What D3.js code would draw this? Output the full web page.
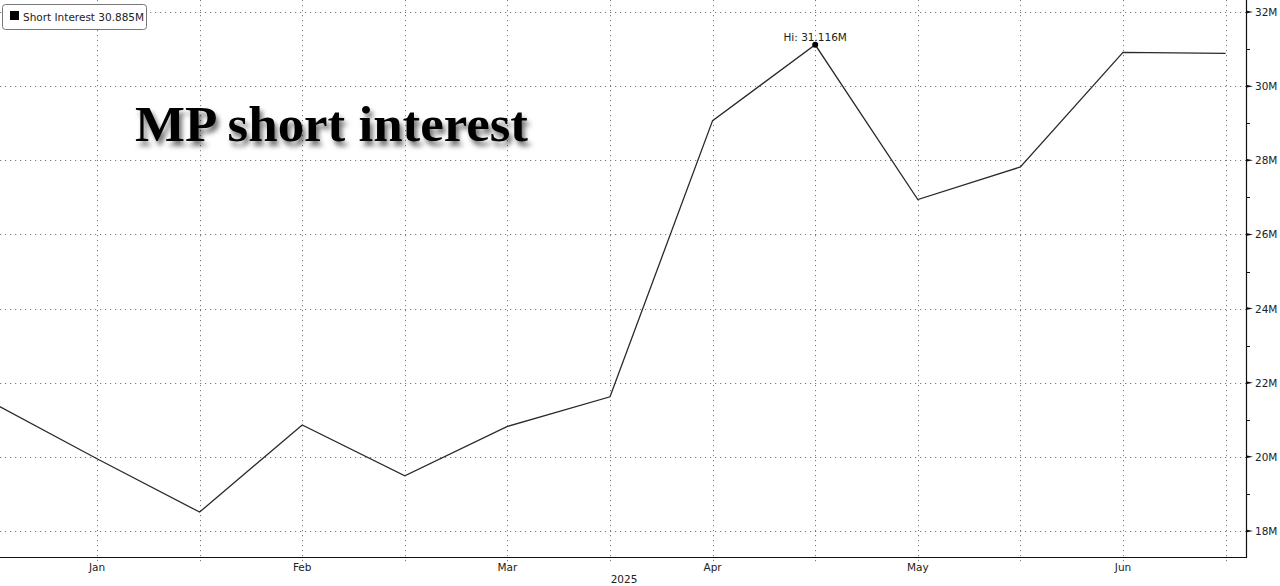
<!DOCTYPE html>
<html>
<head>
<meta charset="utf-8">
<script src="https://cdn.jsdelivr.net/npm/d3@7/dist/d3.min.js"></script>
<style>
  html, body { margin: 0; padding: 0; background: #fff; }
  svg { display: block; }
  .lbl { font-family: "DejaVu Sans", Verdana, sans-serif; font-size: 10.5px; fill: #222; }
</style>
</head>
<body>
<svg id="chart" width="1280" height="586"></svg>
<script>
// ---- data ----
const dates = ["2024-12-31","2025-01-15","2025-01-31","2025-02-14","2025-02-28","2025-03-14",
               "2025-03-31","2025-04-15","2025-04-30","2025-05-15","2025-05-30","2025-06-13","2025-06-30"];
const values = [21.43, 19.95, 18.51, 20.86, 19.49, 20.82, 21.62, 29.07, 31.116, 26.94, 27.82, 30.91, 30.885];
const monthLabels = ["", "Jan", "", "Feb", "", "Mar", "", "Apr", "", "May", "", "Jun", ""];
const yTicks = [18, 20, 22, 24, 26, 28, 30, 32];
const yMinorTicks = [19, 21, 23, 25, 27, 29, 31];
const seriesName = "Short Interest";
const lastLabel = "30.885M";
const hiLabel = "Hi: 31.116M";
const titleText = "MP short interest";
const yearLabel = "2025";

const svg = d3.select("#chart");
const W = 1280, H = 586;
const plotRight = 1246, plotBottom = 557;

const x = d3.scalePoint().domain(dates).range([-5.6, 1225.6]);
const y = d3.scaleLinear().domain([18, 32]).range([531, 12]);

// defs: shadow filter
const defs = svg.append("defs");
const f = defs.append("filter").attr("id", "shadow").attr("x", "-10%").attr("y", "-30%").attr("width", "130%").attr("height", "180%");
f.append("feDropShadow").attr("dx", 3).attr("dy", 5).attr("stdDeviation", 2.5).attr("flood-color", "#000").attr("flood-opacity", 0.55);

defs.append("clipPath").attr("id", "clip").append("rect")
  .attr("x", 0).attr("y", 0).attr("width", plotRight).attr("height", plotBottom);

// grid
const grid = svg.append("g").attr("stroke", "#7a7a7a").attr("stroke-width", 1).attr("stroke-dasharray", "1.2,3.8");
grid.selectAll("line.h").data(yTicks).join("line")
  .attr("x1", 0).attr("x2", plotRight)
  .attr("y1", d => Math.round(y(d)) + 0.5).attr("y2", d => Math.round(y(d)) + 0.5);
grid.selectAll("line.v").data(dates.slice(1)).join("line")
  .attr("x1", d => Math.round(x(d)) + 0.5).attr("x2", d => Math.round(x(d)) + 0.5)
  .attr("y1", 0).attr("y2", plotBottom + 6);

// title
svg.append("text")
  .attr("x", 135).attr("y", 141)
  .attr("font-family", "'Liberation Serif', 'Times New Roman', serif")
  .attr("font-weight", "bold")
  .attr("font-size", 50)
  .attr("textLength", 393).attr("lengthAdjust", "spacingAndGlyphs")
  .attr("fill", "#000")
  .attr("filter", "url(#shadow)")
  .text(titleText);

// line
const line = d3.line().x((d, i) => x(dates[i])).y(d => y(d));
svg.append("path")
  .datum(values)
  .attr("clip-path", "url(#clip)")
  .attr("fill", "none")
  .attr("stroke", "#2a2a2a")
  .attr("stroke-width", 1.3)
  .attr("stroke-linejoin", "miter")
  .attr("d", line);

// hi marker
const hiIdx = values.indexOf(d3.max(values));
svg.append("circle").attr("cx", x(dates[hiIdx])).attr("cy", y(values[hiIdx])).attr("r", 3).attr("fill", "#000");
svg.append("text").attr("class", "lbl")
  .attr("x", x(dates[hiIdx])).attr("y", 41).attr("text-anchor", "middle")
  .text(hiLabel);

// frame axes
svg.append("line").attr("x1", plotRight + 0.5).attr("x2", plotRight + 0.5).attr("y1", 0).attr("y2", plotBottom + 1)
  .attr("stroke", "#111").attr("stroke-width", 1.2);
svg.append("line").attr("x1", 0).attr("x2", plotRight + 1).attr("y1", plotBottom + 0.5).attr("y2", plotBottom + 0.5)
  .attr("stroke", "#111").attr("stroke-width", 1.2);

// right axis ticks (triangle-ish major ticks)
const ra = svg.append("g");
ra.selectAll("path.maj").data(yTicks).join("path")
  .attr("d", d => { const yy = y(d); return `M${plotRight},${yy - 1.5} L${plotRight + 7},${yy} L${plotRight},${yy + 1.5} Z`; })
  .attr("fill", "#111");
ra.selectAll("line.min").data(yMinorTicks).join("line")
  .attr("x1", plotRight).attr("x2", plotRight + 4)
  .attr("y1", d => Math.round(y(d)) + 0.5).attr("y2", d => Math.round(y(d)) + 0.5)
  .attr("stroke", "#111");
ra.selectAll("text").data(yTicks).join("text").attr("class", "lbl")
  .attr("x", plotRight + 9).attr("y", d => y(d) + 4)
  .text(d => d + "M");

// bottom labels
svg.selectAll("text.mon").data(dates).join("text").attr("class", "lbl mon")
  .attr("x", d => x(d)).attr("y", 571).attr("text-anchor", "middle")
  .text((d, i) => monthLabels[i]);
svg.append("text").attr("class", "lbl").attr("x", 624).attr("y", 583).attr("text-anchor", "middle").text(yearLabel);

// legend
const lg = svg.append("g");
lg.append("rect").attr("x", 2.5).attr("y", 4.5).attr("width", 144).attr("height", 25).attr("rx", 3)
  .attr("fill", "#fff").attr("stroke", "#777");
lg.append("rect").attr("x", 10).attr("y", 11).attr("width", 9).attr("height", 9).attr("fill", "#000");
lg.append("text").attr("class", "lbl").attr("x", 23).attr("y", 20.5).text(seriesName + " " + lastLabel);
</script>
</body>
</html>
